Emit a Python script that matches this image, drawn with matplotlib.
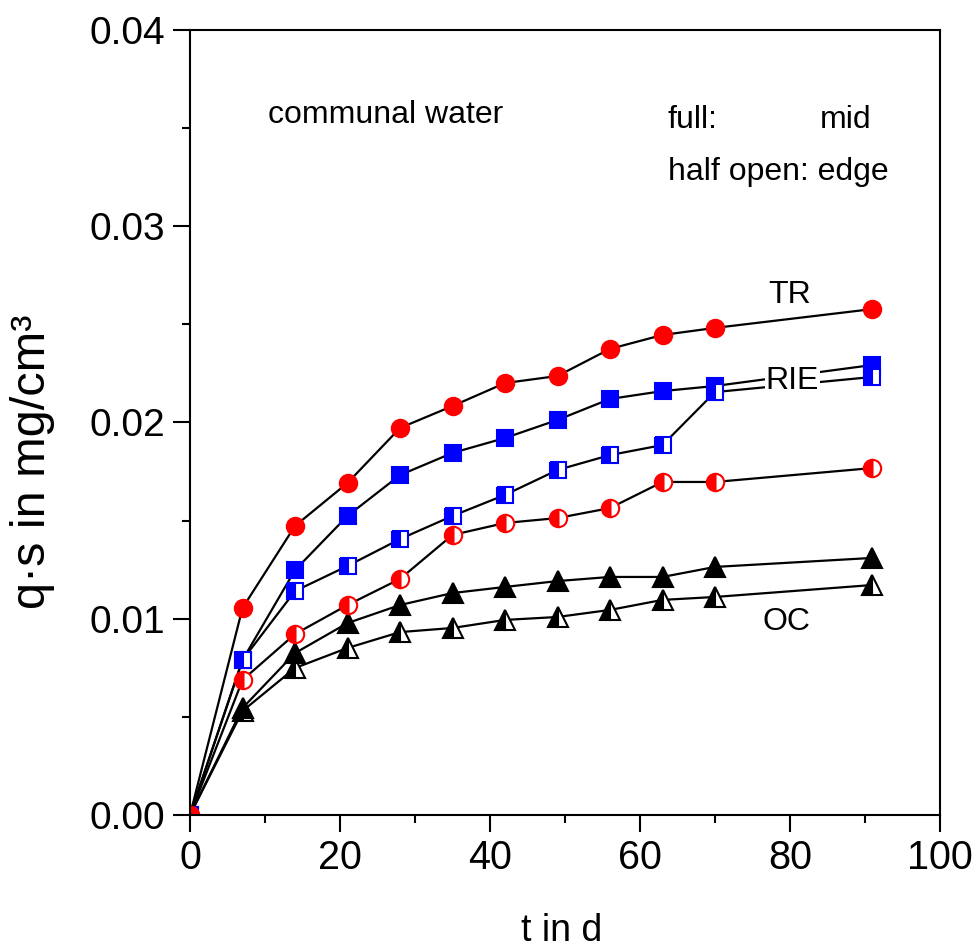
import matplotlib
matplotlib.use("Agg")
import matplotlib.pyplot as plt
from matplotlib.ticker import MultipleLocator, FormatStrFormatter

# Sampling days
t = [0, 7, 14, 21, 28, 35, 42, 49, 56, 63, 70, 91]

# q*s in mg/cm^3 per specimen type and position
tr_mid = [0.0, 0.01055, 0.01473, 0.01692, 0.01972, 0.02084, 0.02201, 0.02237, 0.02375, 0.02446, 0.02482, 0.02578]
tr_edge = [0.0, 0.00688, 0.00922, 0.01070, 0.01203, 0.01427, 0.01488, 0.01513, 0.01564, 0.01697, 0.01697, 0.01768]
rie_mid = [0.0, 0.00790, 0.01248, 0.01524, 0.01732, 0.01845, 0.01921, 0.02013, 0.02120, 0.02160, 0.02186, 0.02293]
rie_edge = [0.0, 0.00790, 0.01141, 0.01269, 0.01406, 0.01524, 0.01631, 0.01758, 0.01834, 0.01885, 0.02155, 0.02232]
oc_mid = [0.0, 0.00545, 0.00825, 0.00978, 0.01070, 0.01131, 0.01162, 0.01192, 0.01213, 0.01213, 0.01264, 0.01310]
oc_edge = [0.0, 0.00530, 0.00749, 0.00851, 0.00932, 0.00953, 0.00994, 0.01009, 0.01045, 0.01096, 0.01111, 0.01172]

FONT = ["Liberation Sans", "DejaVu Sans"]

fig = plt.figure(figsize=(9.76, 9.49), dpi=100)
ax = fig.add_axes([0.1947, 0.1412, 0.9631 - 0.1947, 0.9684 - 0.1412])

line_kw = dict(color="black", lw=1.6, mew=1.5)

# OC: triangles
ax.plot(t, oc_edge, marker="^", ms=14, mfc="black", mec="black",
        fillstyle="left", markerfacecoloralt="white", **line_kw)
ax.plot(t, oc_mid, marker="^", ms=14, mfc="black", mec="black", **line_kw)

# RIE: squares
ax.plot(t, rie_mid, marker="s", ms=11.5, mfc="#0000ff", mec="#0000ff", **line_kw)
ax.plot(t, rie_edge, marker="s", ms=11.5, mfc="#0000ff", mec="#0000ff",
        fillstyle="left", markerfacecoloralt="white", **line_kw)

# TR: circles
ax.plot(t, tr_edge, marker="o", ms=12.5, mfc="red", mec="red",
        fillstyle="left", markerfacecoloralt="white", **line_kw)
ax.plot(t, tr_mid, marker="o", ms=12.5, mfc="red", mec="red", **line_kw)

ax.set_xlim(0, 100)
ax.set_ylim(0, 0.04)

ax.xaxis.set_major_locator(MultipleLocator(20))
ax.xaxis.set_minor_locator(MultipleLocator(10))
ax.yaxis.set_major_locator(MultipleLocator(0.01))
ax.yaxis.set_minor_locator(MultipleLocator(0.005))
ax.yaxis.set_major_formatter(FormatStrFormatter("%.2f"))

ax.tick_params(which="both", direction="out", width=1.5, top=False, right=False)
ax.tick_params(which="major", length=12)
ax.tick_params(which="minor", length=6)
ax.tick_params(axis="y", which="major", pad=6)
ax.tick_params(axis="x", which="major", pad=5)

for lab in ax.get_xticklabels():
    lab.set_family(FONT)
    lab.set_fontsize(28.5)
for lab in ax.get_yticklabels():
    lab.set_family(FONT)
    lab.set_fontsize(28)

for sp in ax.spines.values():
    sp.set_linewidth(1.5)

ax.set_xlabel("t in d", family=FONT, fontsize=27)
ax.xaxis.set_label_coords(0.495, -0.125)
ax.set_ylabel("q·s in mg/cm³", family=FONT, fontsize=35)
ax.yaxis.set_label_coords(-0.18, 0.45)

txt = dict(family=FONT, fontsize=23)
ax.text(26.1, 0.03567, "communal water", ha="center", va="center", **txt)
ax.text(63.7, 0.03541, "full:", ha="left", va="center", **txt)
ax.text(90.9, 0.03541, "mid", ha="right", va="center", **txt)
ax.text(63.7, 0.03276, "half open: edge", ha="left", va="center", **txt)
ax.text(80.0, 0.0265, "TR", ha="center", va="center", **txt)
ax.text(80.3, 0.0221, "RIE", ha="center", va="center",
        bbox=dict(facecolor="white", edgecolor="none", pad=0.5), zorder=5, **txt)
ax.text(79.6, 0.00983, "OC", ha="center", va="center", **txt)

fig.savefig("out.png", dpi=100)
